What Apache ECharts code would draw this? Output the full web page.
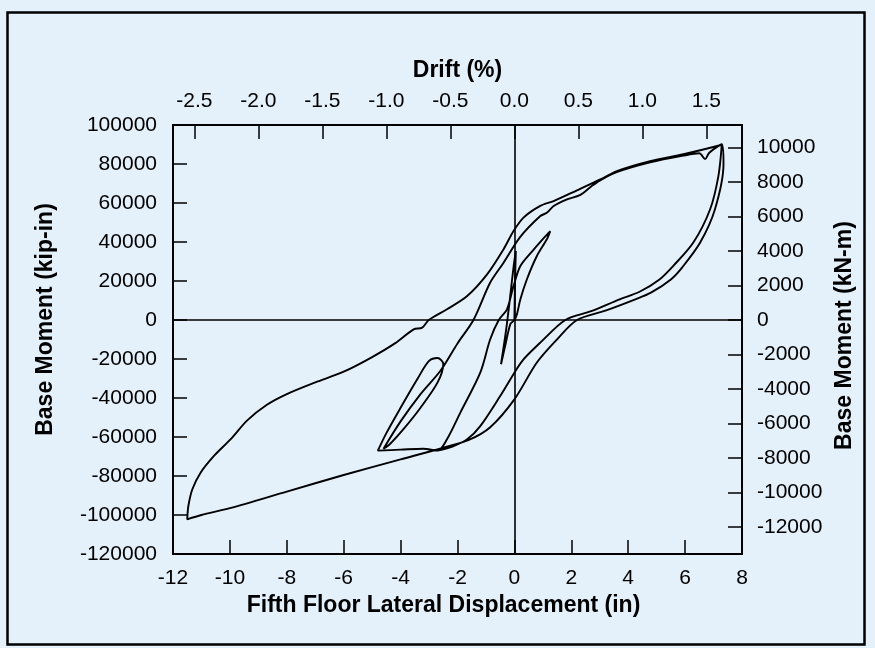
<!DOCTYPE html>
<html>
<head>
<meta charset="utf-8">
<script src="https://cdn.jsdelivr.net/npm/echarts@6/dist/echarts.min.js"></script>
<style>
  html, body { margin: 0; padding: 0; background: #ffffff; }
  #chart { width: 875px; height: 648px; }
</style>
</head>
<body>
<div id="chart"></div>
<script>
// Base moment (kip-in) against fifth floor lateral displacement (in), traced branch by branch.
const elasticCycles = [[0,0],[0.02,18000],[0.05,35400],[-0.04,26000],[-0.18,8000],[-0.3,-6000],[-0.47,-22700],[-0.32,-13000],[-0.14,-2000],[0,0]];
const smallCycleUp = [[0,0],[0.09,3000],[0.21,10600],[0.44,20900],[0.79,32800],[1.14,41400],[1.26,45600]];
const smallCycleDown = [[1.26,45600],[1.03,42000],[0.67,36000],[0.21,27700],[-0.03,17400],[-0.26,5500],[-0.55,0],[-0.85,-9900],[-1.2,-27000],[-1.9,-47500],[-2.37,-61200],[-2.7,-67000]];
const subLoops = [[-2.7,-67000],[-3.2,-66000],[-4.0,-66500],[-4.8,-67000],[-4.5,-58000],[-4.0,-45000],[-3.4,-30000],[-3.0,-21000],[-2.7,-19500],[-2.5,-22500],[-2.7,-32000],[-3.3,-45000],[-3.9,-56000],[-4.4,-64000],[-4.6,-66000],[-4.0,-52000],[-3.3,-38000],[-2.6,-26000],[-2.0,-12000],[-1.44,0],[-0.85,19200],[-0.38,29400],[0.2,42500]];
const firstPushWiggle = [[0.2,42500],[0.91,53300],[1.14,55000],[1.38,58500],[1.85,61900],[2.3,64000],[2.7,68500],[3.0,71500],[3.6,75800],[4.77,80800],[5.94,84300],[6.5,85500],[6.7,82500],[6.85,85800],[7.29,90100]];
const outerUnload = [[7.29,90100],[7.35,80000],[7.05,56800],[6.53,39700],[5.9,27000],[5.5,20800],[4.8,14000],[4.25,10600],[3.2,4800],[2.2,0],[1.5,-9900],[0.79,-21800],[0,-40700],[-0.85,-55000],[-1.6,-61500],[-2.5,-65500],[-4.0,-71500],[-6.0,-79500],[-8.0,-88000],[-10.0,-96500],[-11.0,-100000],[-11.5,-102200]];
const outerReload = [[-11.5,-102200],[-11.46,-95400],[-11.32,-86800],[-11.03,-78300],[-10.56,-69700],[-9.97,-61100],[-9.39,-51500],[-8.7,-43500],[-8.0,-38000],[-7.0,-32000],[-6.0,-26500],[-5.0,-19000],[-4.2,-12000],[-3.54,-4800],[-3.24,-3900],[-3.01,0],[-2.37,5500],[-1.66,12300],[-0.96,23400],[-0.38,36300],[-0.03,45600],[0.32,52500],[0.91,58500],[1.38,61000],[2.2,66500],[3.02,72100],[3.6,76400],[4.77,81500],[5.94,85000],[7.23,89600],[7.29,90100]];
const innerUnload = [[7.29,90100],[7.17,73800],[6.88,56800],[6.29,39700],[5.6,28000],[5.1,20800],[4.4,14500],[3.7,10600],[2.7,4500],[1.79,0],[0.91,-11600],[0.32,-20200],[0,-27000],[-0.5,-39000],[-1.2,-54400],[-1.66,-61200],[-2.2,-65000],[-2.7,-67000]];

const dispTicks = [-12, -10, -8, -6, -4, -2, 0, 2, 4, 6, 8];
const driftTicks = [-2.5, -2.0, -1.5, -1.0, -0.5, 0.0, 0.5, 1.0, 1.5];
const kipTicks = [-120000, -100000, -80000, -60000, -40000, -20000, 0, 20000, 40000, 60000, 80000, 100000];
const knmTicks = [-12000, -10000, -8000, -6000, -4000, -2000, 0, 2000, 4000, 6000, 8000, 10000];

const branches = [elasticCycles, smallCycleUp, smallCycleDown, subLoops, firstPushWiggle, outerUnload, outerReload, innerUnload];
const storyHeight = 4.5;      // inches of displacement per 1 % drift
const kipInPerKNm = 8.8507;   // unit conversion for the right-hand axis

const FONT = '"Liberation Sans", Arial, Helvetica, sans-serif';
const INK = '#000000';
const plain = v => String(Math.round(v));

const axisCommon = {
  axisLine: { show: true, onZero: false, lineStyle: { color: INK, width: 2 } },
  axisTick: { show: true, inside: true, length: 14, lineStyle: { color: INK, width: 1.5 } },
  splitLine: { show: false },
  axisLabel: { color: INK, fontFamily: FONT, fontSize: 21, formatter: plain },
  nameTextStyle: { color: INK, fontFamily: FONT, fontSize: 23, fontWeight: 'bold' }
};

const chart = echarts.init(document.getElementById('chart'), null, { renderer: 'canvas' });

chart.setOption({
  backgroundColor: '#e4f0fa',
  animation: false,
  graphic: [{
    type: 'rect', left: 5, top: 10,
    shape: { width: 857, height: 632 },
    style: { fill: 'none', stroke: INK, lineWidth: 2.5 },
    silent: true
  }],
  grid: { left: 173, top: 125, width: 569, height: 429 },
  xAxis: [
    Object.assign({}, axisCommon, {
      type: 'value', position: 'bottom', min: -12, max: 8,
      name: 'Fifth Floor Lateral Displacement (in)', nameLocation: 'middle', nameGap: 37,
      nameTextStyle: Object.assign({}, axisCommon.nameTextStyle, { padding: [0, 28, 0, 0] }),
      axisTick: Object.assign({}, axisCommon.axisTick, { customValues: dispTicks }),
      axisLabel: Object.assign({}, axisCommon.axisLabel, { margin: 14, customValues: dispTicks })
    }),
    Object.assign({}, axisCommon, {
      type: 'value', position: 'top', min: -12 / storyHeight, max: 8 / storyHeight,
      name: 'Drift (%)', nameLocation: 'middle', nameGap: 43,
      axisTick: Object.assign({}, axisCommon.axisTick, { customValues: driftTicks }),
      axisLabel: Object.assign({}, axisCommon.axisLabel, { margin: 13, customValues: driftTicks,
        formatter: v => v.toFixed(1) })
    })
  ],
  yAxis: [
    Object.assign({}, axisCommon, {
      type: 'value', position: 'left', min: -120000, max: 100000,
      name: 'Base Moment (kip-in)', nameLocation: 'middle', nameGap: 116,
      nameTextStyle: Object.assign({}, axisCommon.nameTextStyle, { padding: [0, 0, 0, 40] }),
      axisTick: Object.assign({}, axisCommon.axisTick, { customValues: kipTicks }),
      axisLabel: Object.assign({}, axisCommon.axisLabel, { margin: 16, customValues: kipTicks })
    }),
    Object.assign({}, axisCommon, {
      type: 'value', position: 'right', min: -120000 / kipInPerKNm, max: 100000 / kipInPerKNm,
      name: 'Base Moment (kN-m)', nameLocation: 'middle', nameGap: 89,
      nameTextStyle: Object.assign({}, axisCommon.nameTextStyle, { padding: [0, 0, 0, 8] }),
      axisTick: Object.assign({}, axisCommon.axisTick, { customValues: knmTicks }),
      axisLabel: Object.assign({}, axisCommon.axisLabel, { margin: 15, customValues: knmTicks })
    })
  ],
  series: [{
    type: 'line',
    xAxisIndex: 0, yAxisIndex: 0,
    data: branches.flat(),
    showSymbol: false,
    smooth: 0.3,
    lineStyle: { color: INK, width: 1.9 },
    markLine: {
      silent: true, symbol: 'none', label: { show: false },
      lineStyle: { color: INK, width: 1.6, type: 'solid' },
      data: [{ yAxis: 0 }, { xAxis: 0 }]
    }
  }]
});
</script>
</body>
</html>
